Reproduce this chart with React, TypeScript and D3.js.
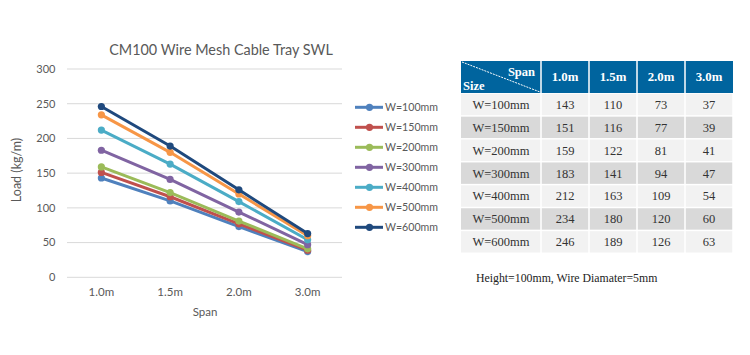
import React from "react";
import * as d3 from "d3";

const spans = ["1.0m", "1.5m", "2.0m", "3.0m"];
const sizes = ["W=100mm", "W=150mm", "W=200mm", "W=300mm", "W=400mm", "W=500mm", "W=600mm"];
const w100 = [143, 110, 73, 37];
const w150 = [151, 116, 77, 39];
const w200 = [159, 122, 81, 41];
const w300 = [183, 141, 94, 47];
const w400 = [212, 163, 109, 54];
const w500 = [234, 180, 120, 60];
const w600 = [246, 189, 126, 63];
const seriesValues = [w100, w150, w200, w300, w400, w500, w600];
const colors = ["#4F81BD", "#C0504D", "#9BBB59", "#8064A2", "#4BACC6", "#F79646", "#1F497D"];
const yTicks = [0, 50, 100, 150, 200, 250, 300];

export default function App() {
  const x = d3.scaleBand<string>().domain(spans).range([67, 342]);
  const y = d3.scaleLinear().domain([0, 300]).range([277.3, 69]);
  const cx = (s: string) => (x(s) as number) + x.bandwidth() / 2;
  const line = d3
    .line<number>()
    .x((_, i) => cx(spans[i]))
    .y((d) => y(d));

  const sans = "Lato, 'Open Sans', sans-serif";
  const serif = "'Liberation Serif', 'DejaVu Serif', serif";

  // table geometry
  const colX = [461, 541, 589, 637, 685, 733];
  const headTop = 61;
  const headBottom = 93;
  const rowH = 22.9;

  return (
    <svg width={750} height={355} style={{ position: "absolute", left: 0, top: 0 }}>
      <rect width={750} height={355} fill="#fff" />
      {/* chart */}
      <text x={221} y={55} textAnchor="middle" fontFamily={sans} fontSize={14.4} fill="#595959">
        CM100 Wire Mesh Cable Tray SWL
      </text>
      {yTicks.map((t) => (
        <g key={t}>
          <line x1={67} x2={342} y1={y(t)} y2={y(t)} stroke="#D9D9D9" strokeWidth={1} />
          <text x={55.5} y={y(t)} dy="0.35em" textAnchor="end" fontFamily={sans} fontSize={11} fill="#595959">
            {t}
          </text>
        </g>
      ))}
      {spans.map((s) => (
        <text key={s} x={cx(s)} y={296} textAnchor="middle" fontFamily={sans} fontSize={11.5} fill="#595959">
          {s}
        </text>
      ))}
      <text x={205} y={316} textAnchor="middle" fontFamily={sans} fontSize={11.5} fill="#595959">
        Span
      </text>
      <text
        transform="translate(21,170) rotate(-90)"
        textAnchor="middle"
        fontFamily={sans}
        fontSize={12.5}
        fill="#595959"
      >
        Load (kg/m)
      </text>
      {seriesValues.map((vals, si) => (
        <g key={si}>
          <path d={line(vals) || ""} fill="none" stroke={colors[si]} strokeWidth={3} strokeLinejoin="round" />
          {vals.map((v, i) => (
            <circle key={i} cx={cx(spans[i])} cy={y(v)} r={3.6} fill={colors[si]} />
          ))}
        </g>
      ))}
      {/* legend */}
      {sizes.map((s, i) => {
        const ly = 107.3 + i * 20;
        return (
          <g key={s}>
            <line x1={355} x2={383} y1={ly} y2={ly} stroke={colors[i]} strokeWidth={3} />
            <circle cx={369.5} cy={ly} r={3.6} fill={colors[i]} />
            <text x={385} y={ly} dy="0.35em" fontFamily={sans} fontSize={10.6} fill="#595959">
              {s}
            </text>
          </g>
        );
      })}
      {/* table */}
      <rect x={colX[0]} y={headTop} width={colX[5] - colX[0]} height={headBottom - headTop} fill="#00649E" />
      {colX.slice(1, 5).map((cxp) => (
        <line key={cxp} x1={cxp} x2={cxp} y1={headTop} y2={headBottom} stroke="#fff" strokeWidth={1.5} />
      ))}
      <line
        x1={colX[0] + 1}
        y1={headTop + 1}
        x2={colX[1] - 1}
        y2={headBottom - 1}
        stroke="#fff"
        strokeWidth={1}
        strokeDasharray="2,1"
      />
      <text x={535} y={76} textAnchor="end" fontFamily={serif} fontWeight="bold" fontSize={12.5} fill="#fff">
        Span
      </text>
      <text x={463} y={90} fontFamily={serif} fontWeight="bold" fontSize={12.5} fill="#fff">
        Size
      </text>
      {spans.map((s, i) => (
        <text
          key={s}
          x={(colX[i + 1] + colX[i + 2]) / 2}
          y={(headTop + headBottom) / 2}
          dy="0.35em"
          textAnchor="middle"
          fontFamily={serif}
          fontWeight="bold"
          fontSize={12.8}
          fill="#fff"
        >
          {s}
        </text>
      ))}
      {sizes.map((s, r) => {
        const top = headBottom + r * rowH;
        const mid = top + rowH / 2;
        return (
          <g key={s}>
            {colX.slice(0, 5).map((c0, ci) => (
              <rect
                key={ci}
                x={c0 + (ci === 0 ? 0 : 0.75)}
                y={top + 0.75}
                width={colX[ci + 1] - c0 - (ci === 0 ? 0.75 : 1.5)}
                height={rowH - 1.5}
                fill={r % 2 === 0 ? "#F2F2F2" : "#D9D9D9"}
              />
            ))}
            <text x={(colX[0] + colX[1]) / 2} y={mid} dy="0.35em" textAnchor="middle" fontFamily={serif} fontSize={12.5} fill="#333">
              {s}
            </text>
            {seriesValues[r].map((v, ci) => (
              <text
                key={ci}
                x={(colX[ci + 1] + colX[ci + 2]) / 2}
                y={mid}
                dy="0.35em"
                textAnchor="middle"
                fontFamily={serif}
                fontSize={12.5}
                fill="#333"
              >
                {v}
              </text>
            ))}
          </g>
        );
      })}
      <text x={476} y={282} fontFamily={serif} fontSize={11.8} fill="#222">
        Height=100mm, Wire Diamater=5mm
      </text>
    </svg>
  );
}
